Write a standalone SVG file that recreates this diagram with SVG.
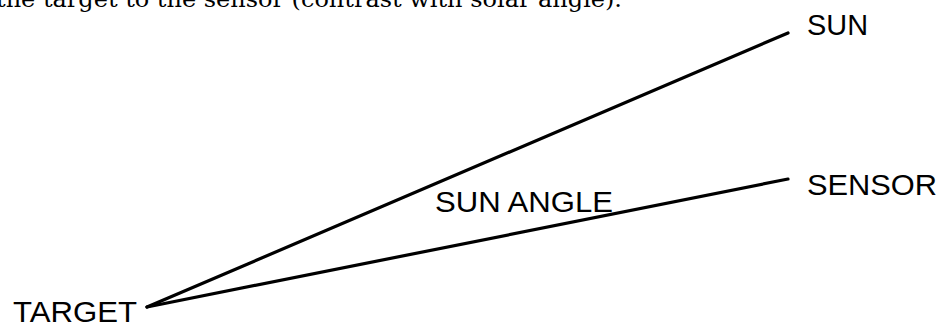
<svg xmlns="http://www.w3.org/2000/svg" width="942" height="327" viewBox="0 0 942 327">
<style>
.lbl{font-family:"Liberation Sans",Arial,sans-serif;font-size:30px;fill:#000}
.cap{font-family:"DejaVu Serif","Liberation Serif",serif;font-size:22px;fill:#000}
.ln{stroke:#000;stroke-width:3.2;fill:none;stroke-linecap:round}
</style>
<rect width="942" height="327" fill="#fff"/>
<text class="cap" x="-4" y="7" textLength="626" lengthAdjust="spacingAndGlyphs">the target to the sensor (contrast with solar angle).</text>
<g id="connectors">
<line class="ln" x1="147" y1="307" x2="788" y2="33"/>
<line class="ln" x1="147" y1="307" x2="788" y2="179"/>
</g>
<g id="target"><text class="lbl" x="13" y="322" font-size="29" style="font-size:29px" textLength="124" lengthAdjust="spacingAndGlyphs">TARGET</text></g>
<g id="sun"><text class="lbl" x="807" y="35" textLength="61" lengthAdjust="spacingAndGlyphs">SUN</text></g>
<g id="sensor"><text class="lbl" x="807" y="195" textLength="130" lengthAdjust="spacingAndGlyphs">SENSOR</text></g>
<g id="sun-angle"><text class="lbl" x="435" y="212" textLength="178" lengthAdjust="spacingAndGlyphs">SUN ANGLE</text></g>
</svg>
